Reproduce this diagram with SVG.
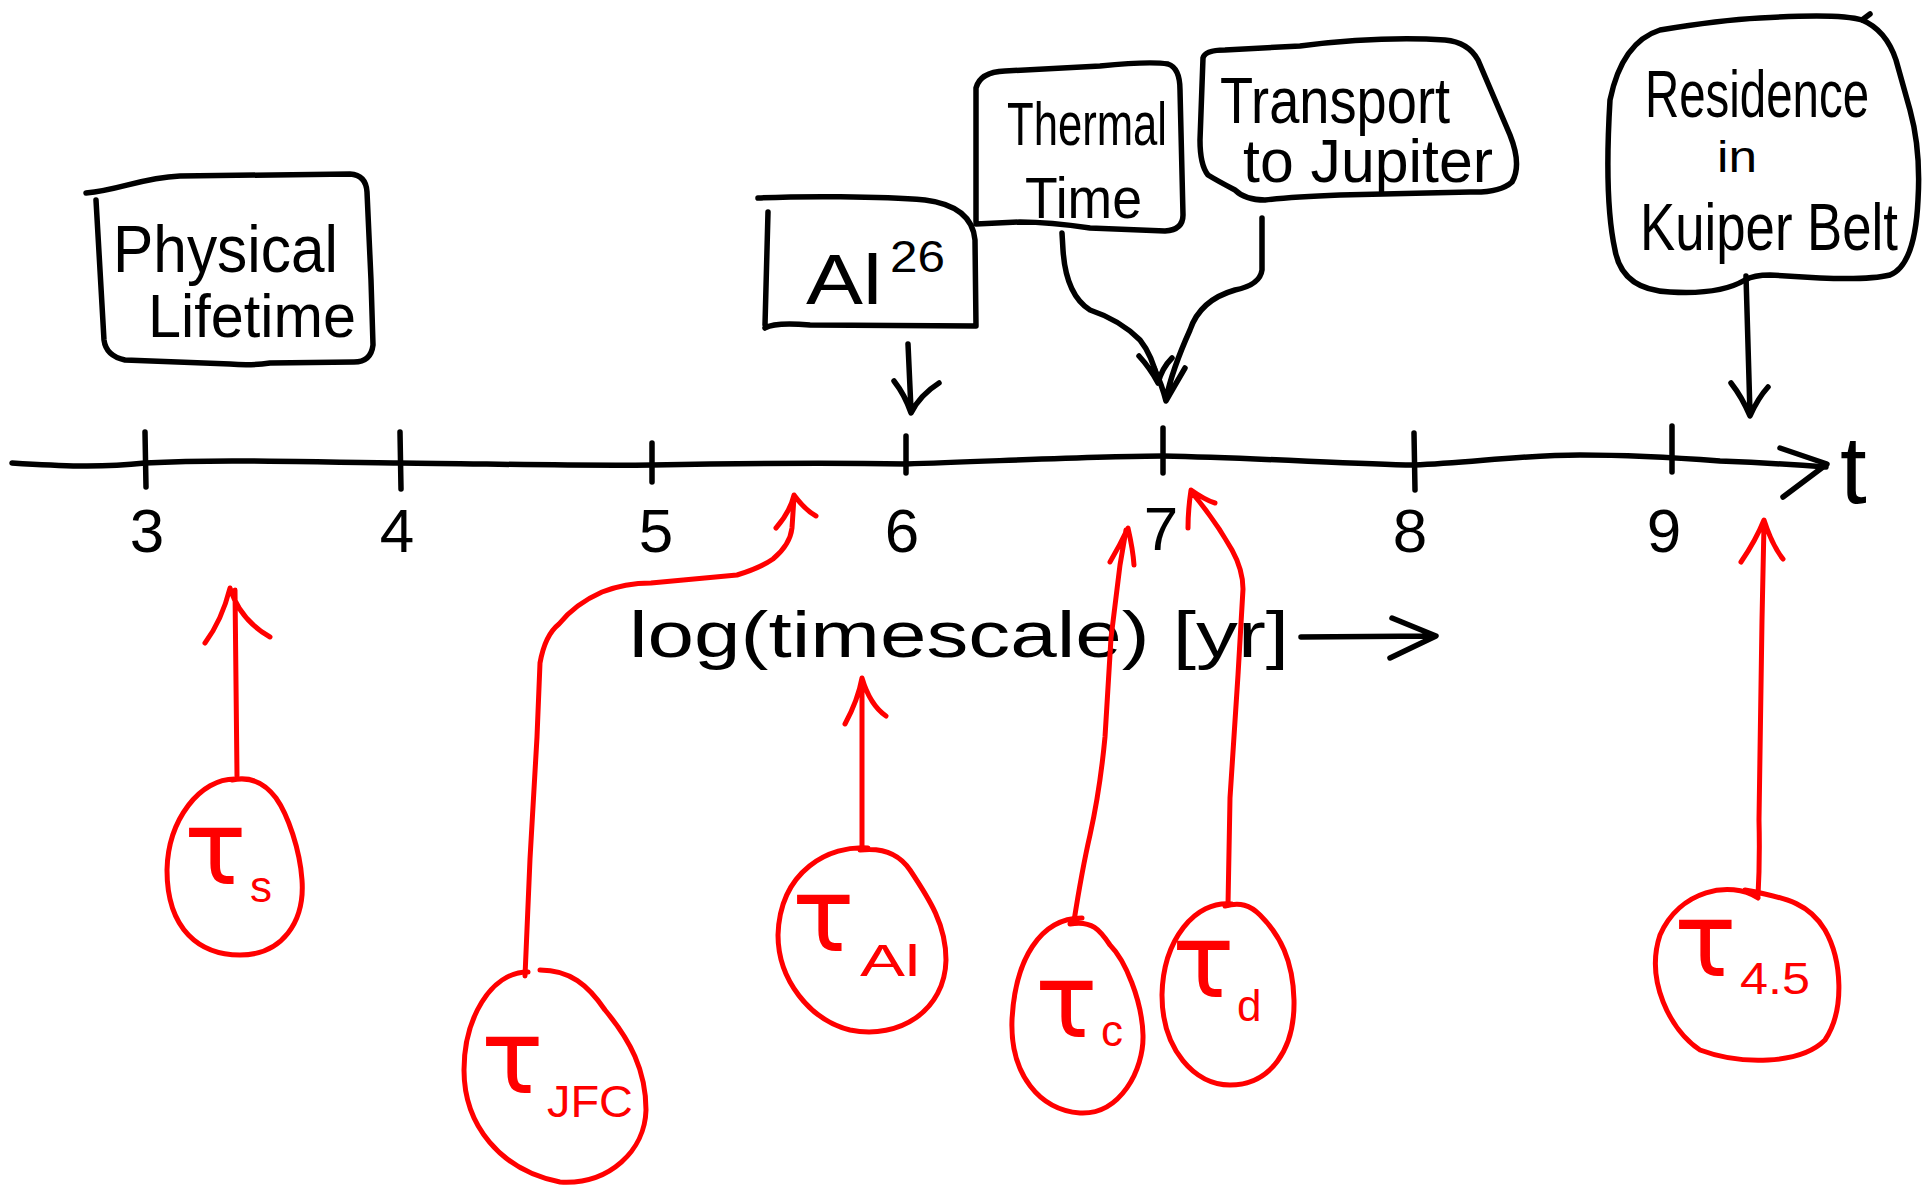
<svg xmlns="http://www.w3.org/2000/svg" width="1925" height="1185" viewBox="0 0 1925 1185">
  <style>
    .ink { fill: none; stroke: #000; stroke-width: 5.5; stroke-linecap: round; stroke-linejoin: round; }
    .red { fill: none; stroke: #f00; stroke-width: 5; stroke-linecap: round; stroke-linejoin: round; }
    .lbl { font-family: "Liberation Sans", "DejaVu Sans", sans-serif; fill: #000; }
    .num { font-family: "Liberation Sans", "DejaVu Sans", sans-serif; font-size: 62px; fill: #000; text-anchor: middle; }
    .tau { font-family: "DejaVu Sans", "Liberation Sans", sans-serif; font-size: 104px; fill: #f00; }
    .sub { font-family: "Liberation Sans", "DejaVu Sans", sans-serif; font-size: 44px; fill: #f00; }
  </style>
  <rect width="1925" height="1185" fill="#fff"/>

  <!-- time axis with decade ticks -->
  <g id="axis">
    <path class="ink" d="M12 463 C 60 466 100 468 145 463 C 220 459 300 462 400 463 C 500 464 580 466 652 465 C 760 463 850 463 906 464 C 1000 461 1100 456 1163 456 C 1260 458 1350 464 1414 465 C 1470 463 1520 455 1580 455 C 1640 455 1680 458 1720 461 C 1770 463 1800 465 1826 467"/>
    <path class="ink" d="M1780 448 L1827 464 L1783 497"/>
    <path class="ink" d="M145 432 L146 487 M400 432 L401 489 M652 443 L652 482 M906 436 L906 473 M1163 428 L1163 473 M1414 433 L1415 490 M1672 426 L1672 472"/>
    <text class="num" x="147" y="552">3</text>
    <text class="num" x="397" y="552">4</text>
    <text class="num" x="656" y="552">5</text>
    <text class="num" x="902" y="552">6</text>
    <text class="num" x="1161" y="550">7</text>
    <text class="num" x="1410" y="552">8</text>
    <text class="num" x="1664" y="552">9</text>
    <text class="lbl" x="1840" y="503" font-size="96">t</text>
    <text class="lbl" x="629" y="657" font-size="64" textLength="660" lengthAdjust="spacingAndGlyphs">log(timescale) [yr]</text>
    <path class="ink" d="M1301 637 L1434 636 M1392 618 L1436 636 L1390 658"/>
  </g>

  <!-- timescale boxes above the axis -->
  <g id="physical-lifetime">
    <path class="ink" d="M86 193 C 120 190 140 178 180 176 L 350 174 Q 366 175 367 192 L 371 280 L 373 345 Q 371 362 354 362 L 270 363 Q 250 366 230 364 L 125 360 Q 106 356 104 340 L 96 200"/>
    <text class="lbl" x="113" y="272" font-size="66" textLength="225" lengthAdjust="spacingAndGlyphs">Physical</text>
    <text class="lbl" x="148" y="337" font-size="62" textLength="208" lengthAdjust="spacingAndGlyphs">Lifetime</text>
  </g>

  <g id="al26">
    <path class="ink" d="M758 198 C 800 196 880 196 925 200 Q 972 206 975 240 L 976 326 L 810 325 Q 775 322 765 328 M768 212 L 765 325"/>
    <text class="lbl" x="806" y="304" font-size="70" textLength="76" lengthAdjust="spacingAndGlyphs">Al</text>
    <text class="lbl" x="890" y="272" font-size="44" textLength="55" lengthAdjust="spacingAndGlyphs">26</text>
  </g>

  <g id="thermal-time">
    <path class="ink" d="M976 222 L 976 88 Q 980 72 1005 71 L 1100 66 Q 1150 61 1168 64 Q 1180 68 1180 90 L 1183 215 Q 1183 230 1165 231 L 1090 228 Q 1050 222 1020 222 L 976 224"/>
    <text class="lbl" x="1007" y="145" font-size="62" textLength="160" lengthAdjust="spacingAndGlyphs">Thermal</text>
    <text class="lbl" x="1025" y="218" font-size="58" textLength="117" lengthAdjust="spacingAndGlyphs">Time</text>
  </g>

  <g id="transport-to-jupiter">
    <path class="ink" d="M1203 58 Q 1205 50 1225 50 L 1300 46 Q 1380 36 1445 40 Q 1468 42 1478 60 L 1510 135 Q 1522 165 1512 182 Q 1500 193 1470 192 L 1340 195 Q 1290 197 1265 200 Q 1245 200 1235 190 Q 1216 180 1208 175 Q 1200 165 1200 140 Z"/>
    <text class="lbl" x="1220" y="123" font-size="64" textLength="230" lengthAdjust="spacingAndGlyphs">Transport</text>
    <text class="lbl" x="1243" y="182" font-size="62" textLength="250" lengthAdjust="spacingAndGlyphs">to Jupiter</text>
  </g>

  <g id="residence-kuiper-belt">
    <path class="ink" d="M1610 100 Q 1622 42 1660 30 Q 1720 20 1760 18 Q 1840 13 1862 20 Q 1886 30 1896 60 L 1910 110 Q 1921 150 1918 200 Q 1915 265 1890 275 Q 1870 280 1820 278 L 1770 275 Q 1754 275 1745 280 Q 1720 295 1670 292 Q 1622 290 1615 250 Q 1604 200 1610 100 Z M1862 20 L1870 14"/>
    <text class="lbl" x="1645" y="117" font-size="66" textLength="224" lengthAdjust="spacingAndGlyphs">Residence</text>
    <text class="lbl" x="1717" y="172" font-size="44" textLength="40" lengthAdjust="spacingAndGlyphs">in</text>
    <text class="lbl" x="1640" y="250" font-size="66" textLength="258" lengthAdjust="spacingAndGlyphs">Kuiper Belt</text>
  </g>

  <!-- red timescale symbols below the axis -->
  <g id="tau-s">
    <path class="red" d="M236 779 C 200 778 168 820 167 870 C 167 930 200 955 240 955 C 282 955 305 922 302 880 C 300 850 288 815 276 798 C 264 782 250 776 232 780"/>
    <text class="tau" x="184" y="884">τ</text>
    <text class="sub" x="250" y="902">s</text>
  </g>
  <g id="tau-jfc">
    <path class="red" d="M528 972 C 490 972 464 1020 464 1070 C 464 1125 500 1170 560 1182 C 610 1185 645 1150 646 1110 C 646 1070 630 1040 605 1010 C 588 985 570 970 540 970"/>
    <text class="tau" x="481" y="1093">τ</text>
    <text class="sub" x="547" y="1117" font-size="36" textLength="86" lengthAdjust="spacingAndGlyphs">JFC</text>
  </g>
  <g id="tau-al">
    <path class="red" d="M868 848 C 830 845 780 870 778 935 C 778 980 810 1020 850 1030 C 900 1040 945 1010 946 960 C 946 925 930 900 910 870 C 900 855 885 847 860 850"/>
    <text class="tau" x="792" y="951">τ</text>
    <text class="sub" x="860" y="976" textLength="60" lengthAdjust="spacingAndGlyphs">Al</text>
  </g>
  <g id="tau-c">
    <path class="red" d="M1082 918 C 1040 918 1015 960 1012 1020 C 1010 1075 1040 1110 1080 1113 C 1120 1115 1144 1070 1143 1035 C 1142 1000 1125 960 1110 945 C 1100 930 1092 920 1070 924"/>
    <text class="tau" x="1035" y="1037">τ</text>
    <text class="sub" x="1101" y="1046">c</text>
  </g>
  <g id="tau-d">
    <path class="red" d="M1232 904 C 1195 900 1163 940 1162 995 C 1162 1050 1195 1085 1230 1085 C 1270 1085 1295 1050 1294 1000 C 1293 960 1280 935 1260 915 C 1250 905 1240 902 1225 906"/>
    <text class="tau" x="1172" y="997">τ</text>
    <text class="sub" x="1237" y="1021">d</text>
  </g>
  <g id="tau-45">
    <path class="red" d="M1758 898 C 1730 880 1680 890 1660 935 C 1645 980 1670 1030 1700 1050 C 1740 1065 1800 1065 1825 1040 C 1845 1010 1842 960 1825 930 C 1810 905 1790 898 1745 890"/>
    <text class="tau" x="1674" y="976">τ</text>
    <text class="sub" x="1740" y="994" textLength="70" lengthAdjust="spacingAndGlyphs">4.5</text>
  </g>

  <!-- connectors -->
  <g id="connectors">
    <!-- boxes to axis -->
    <path class="ink" d="M908 344 L 911 410 M894 381 Q 905 395 911 413 Q 920 395 939 383"/>
    <path class="ink" d="M1062 233 L 1063 250 Q 1066 295 1090 310 Q 1120 320 1140 340 Q 1152 355 1158 381 M1139 356 Q 1150 368 1158 383 Q 1162 368 1172 358"/>
    <path class="ink" d="M1262 218 L 1262 270 Q 1260 285 1235 290 Q 1200 300 1190 330 Q 1172 370 1166 399 M1154 368 Q 1162 385 1166 401 Q 1175 385 1185 368"/>
    <path class="ink" d="M1746 276 L 1750 414 M1731 383 Q 1742 397 1750 416 Q 1758 398 1768 387"/>
    <!-- timescale symbols to axis -->
    <path class="red" d="M237 776 L 235 590 M205 643 Q 222 620 230 588 Q 240 620 270 637"/>
    <path class="red" d="M525 976 L 530 859 L 537 737 L 540 663 Q 545 635 559 624 Q 575 604 602 592 Q 625 583 651 583 L 737 575 Q 760 568 773 559 Q 790 545 792 528 L 794 497 M776 528 Q 790 512 794 495 Q 805 510 816 516"/>
    <path class="red" d="M862 848 L 862 680 M845 724 Q 858 700 862 678 Q 870 705 886 716"/>
    <path class="red" d="M1074 921 Q 1082 870 1090 835 Q 1100 790 1105 737 L 1111 638 L 1120 565 L 1126 530 M1110 562 Q 1120 545 1128 528 Q 1133 550 1134 565"/>
    <path class="red" d="M1228 905 L 1230 798 L 1238 675 L 1243 589 Q 1243 570 1232 550 Q 1215 520 1193 494 M1188 528 Q 1188 510 1191 490 Q 1205 500 1215 503"/>
    <path class="red" d="M1758 896 Q 1760 860 1759 820 L 1762 620 L 1764 524 M1741 562 Q 1756 540 1764 520 Q 1772 545 1783 559"/>
  </g>
</svg>
